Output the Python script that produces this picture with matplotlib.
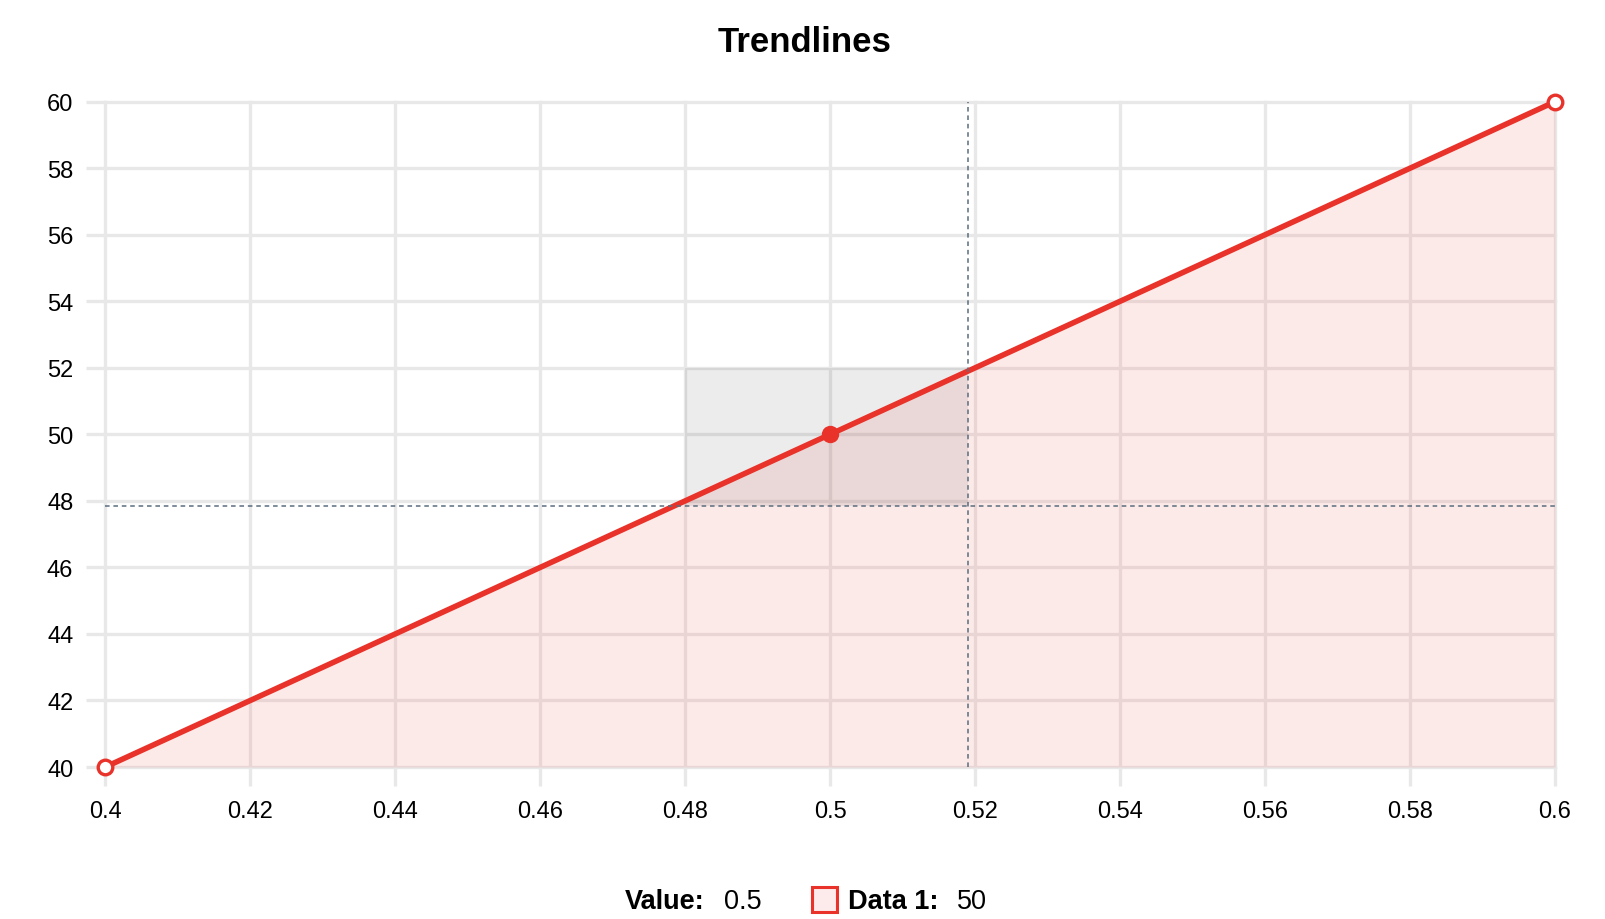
import matplotlib
matplotlib.use("Agg")
import matplotlib.pyplot as plt
from matplotlib.patches import Rectangle

plt.rcParams['font.family'] = ['Liberation Sans', 'DejaVu Sans']

x_vals = [0.4, 0.5, 0.6]
y_vals = [40, 50, 60]
x_ticks = [0.4, 0.42, 0.44, 0.46, 0.48, 0.5, 0.52, 0.54, 0.56, 0.58, 0.6]
x_labels = ['0.4', '0.42', '0.44', '0.46', '0.48', '0.5', '0.52', '0.54', '0.56', '0.58', '0.6']
y_ticks = [40, 42, 44, 46, 48, 50, 52, 54, 56, 58, 60]
hover_x = 0.5
hover_y = 50
cursor_x = 0.519
cursor_y = 47.85
band_x0 = 0.48
band_y1 = 52

red = '#e8322a'
grid_c = '#e8e8e8'

fig = plt.figure(figsize=(16.06, 9.2), dpi=100)
ax = fig.add_axes([0.06557, 0.1652, 0.9027, 0.7232])

ax.set_xlim(0.4, 0.6)
ax.set_ylim(40, 60)
ax.set_xticks(x_ticks)
ax.set_xticklabels(x_labels)
ax.set_yticks(y_ticks)
ax.grid(True, color=grid_c, linewidth=2.4)
ax.set_axisbelow(True)
for gl in ax.get_xgridlines() + ax.get_ygridlines():
    gl.set_clip_on(False)
for s in ax.spines.values():
    s.set_visible(False)
ax.tick_params(axis='both', length=14, width=2.4, color=grid_c, labelsize=17)
ax.tick_params(axis='y', pad=9)
ax.tick_params(axis='x', pad=10)

# area + line
ax.fill_between(x_vals, y_vals, 40, color=red, alpha=0.1, linewidth=0)
ax.plot(x_vals, y_vals, color=red, linewidth=4, solid_capstyle='round',
        clip_on=False, zorder=4)
ax.plot([x_vals[0], x_vals[-1]], [y_vals[0], y_vals[-1]], 'o', markersize=10.5,
        markerfacecolor='white', markeredgecolor=red, markeredgewidth=2.4,
        clip_on=False, zorder=5)

# hover highlight
ax.add_patch(Rectangle((band_x0, cursor_y), cursor_x - band_x0, band_y1 - cursor_y,
                       facecolor=(0, 0, 0, 0.075), edgecolor='none', zorder=3))
ax.plot([hover_x], [hover_y], 'o', markersize=11.5, color=red, zorder=6)
ax.axvline(cursor_x, color='#5b6d7e', linewidth=1.1, dashes=(3, 2.5), zorder=7)
ax.axhline(cursor_y, color='#5b6d7e', linewidth=1.1, dashes=(3, 2.5), zorder=7)

fig.text(0.5012, 1 - 43 / 920, 'Trendlines', ha='center', va='center',
         fontsize=25, fontweight='bold')

# legend / tooltip row
base = 1 - 909 / 920
fig.text(625 / 1606, base, 'Value:', fontsize=19.5, fontweight='bold', va='baseline')
fig.text(724 / 1606, base, '0.5', fontsize=19.5, va='baseline')
fig.patches.append(Rectangle((812.5 / 1606, 1 - 912.5 / 920), 25 / 1606, 25 / 920,
                             transform=fig.transFigure, facecolor='#fdeaea',
                             edgecolor=red, linewidth=2.2))
fig.text(848 / 1606, base, 'Data 1:', fontsize=19.5, fontweight='bold', va='baseline')
fig.text(957 / 1606, base, '50', fontsize=19.5, va='baseline')

fig.savefig('out.png', dpi=100)
